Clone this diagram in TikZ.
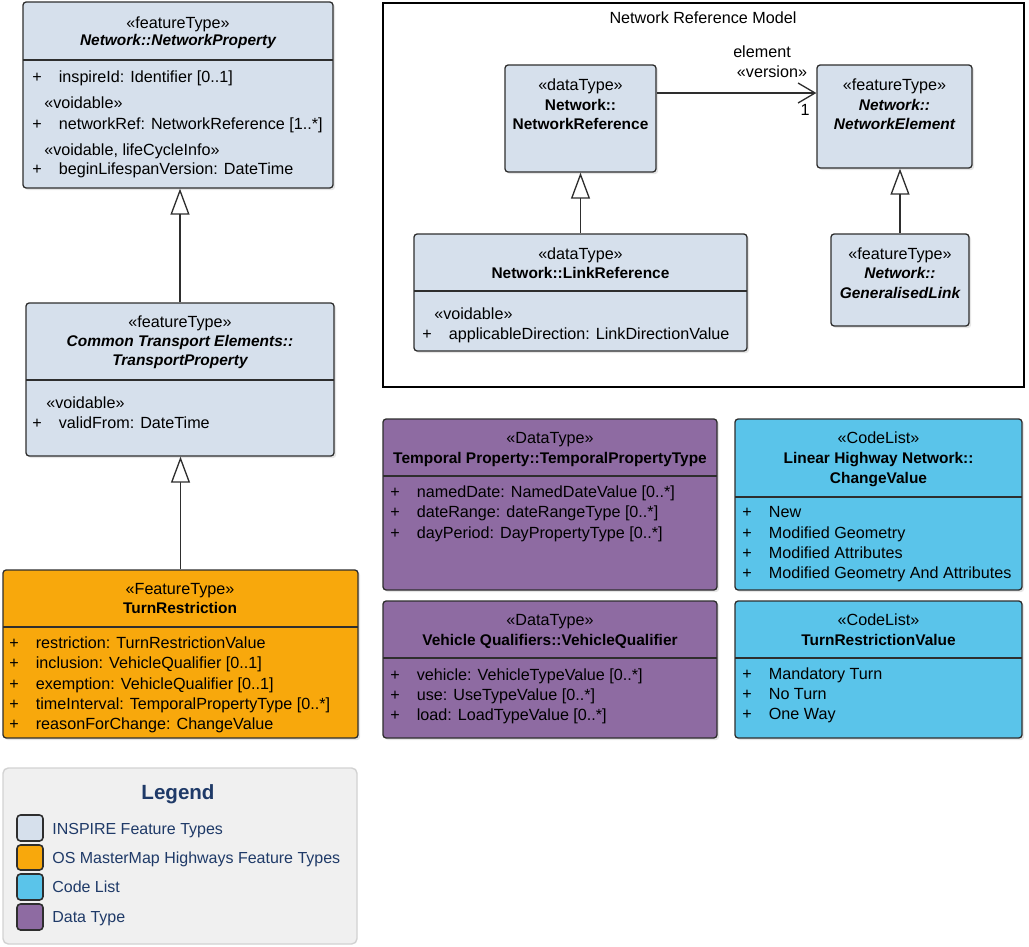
\documentclass[tikz,border=0pt]{standalone}
\usepackage{fontspec}
\setmainfont{Liberation Sans}
\usetikzlibrary{arrows.meta,fit,shadows}
\definecolor{inspire}{HTML}{D6E0EC}
\definecolor{osorange}{HTML}{F8A80C}
\definecolor{dtpurple}{HTML}{8E6BA2}
\definecolor{clcyan}{HTML}{5AC4EA}
\definecolor{legendbg}{HTML}{F0F0F0}
\definecolor{legendline}{HTML}{D2D2D2}
\definecolor{legendtxt}{HTML}{1F3A68}
\definecolor{umlline}{HTML}{2E2E2E}
\newcommand{\plus}{\makebox[0.53cm][l]{+}}
\tikzset{
  umlbox/.style={draw=umlline, line width=0.75pt, rounded corners=1.8pt, inner sep=0pt,
    drop shadow={shadow xshift=1.2pt, shadow yshift=-1.2pt, opacity=0.2}},
  stereo/.style={font=\fontsize{9.2}{11}\selectfont, anchor=base, inner sep=0pt},
  cname/.style={font=\fontsize{8.8}{11}\selectfont\bfseries, anchor=base, inner sep=0pt},
  cnamei/.style={cname, font=\fontsize{8.8}{11}\selectfont\bfseries\itshape},
  attr/.style={font=\fontsize{9.2}{11}\selectfont, anchor=base west, inner sep=0pt},
  divider/.style={draw=umlline, line width=0.75pt},
  gen/.style={draw=umlline, line width=0.75pt, -{Triangle[length=5.2mm, width=3.8mm, fill=white]}},
  assoc/.style={draw=umlline, line width=0.75pt, -{Straight Barb[length=3.4mm, width=4mm]}},
  lgtext/.style={font=\fontsize{9.1}{11}\selectfont, text=legendtxt, anchor=base west, inner sep=0pt},
  swatch/.style={draw=umlline, line width=0.9pt, rounded corners=2pt, inner sep=0pt}
}
\begin{document}
\begin{tikzpicture}[x=0.02cm, y=-0.02cm]
\useasboundingbox (0,0) rectangle (1029,947);

% INSPIRE network property
\node[umlbox, fill=inspire, fit={(23,2) (333,188)}] (netprop) {};
\draw[divider] (23,60) -- (333,60);
\node[stereo] (netprop-st) at (178,28) {«featureType»};
\node[cnamei] (netprop-nm) at (178,45) {Network::NetworkProperty};
\node[attr] (netprop-a1) at (32,82) {\plus inspireId: Identifier [0..1]};
\node[attr] (netprop-s2) at (44,108) {«voidable»};
\node[attr] (netprop-a2) at (32,129) {\plus networkRef: NetworkReference [1..*]};
\node[attr] (netprop-s3) at (44,155) {«voidable, lifeCycleInfo»};
\node[attr] (netprop-a3) at (32,174) {\plus beginLifespanVersion: DateTime};

% transport property
\node[umlbox, fill=inspire, fit={(26,303) (334,456)}] (transp) {};
\draw[divider] (26,380) -- (334,380);
\node[stereo] (transp-st) at (180,327) {«featureType»};
\node[cnamei] (transp-n1) at (180,346) {Common Transport Elements::};
\node[cnamei] (transp-n2) at (180,365) {TransportProperty};
\node[attr] (transp-s1) at (46,408) {«voidable»};
\node[attr] (transp-a1) at (32,428) {\plus validFrom: DateTime};

% turn restriction
\node[umlbox, fill=osorange, fit={(3,570) (358,738)}] (turnres) {};
\draw[divider] (3,627) -- (358,627);
\node[stereo] (turnres-st) at (180,594) {«FeatureType»};
\node[cname] (turnres-nm) at (180,613) {TurnRestriction};
\node[attr] (turnres-a1) at (9,648) {\plus restriction: TurnRestrictionValue};
\node[attr] (turnres-a2) at (9,668) {\plus inclusion: VehicleQualifier [0..1]};
\node[attr] (turnres-a3) at (9,689) {\plus exemption: VehicleQualifier [0..1]};
\node[attr] (turnres-a4) at (9,709) {\plus timeInterval: TemporalPropertyType [0..*]};
\node[attr] (turnres-a5) at (9,729) {\plus reasonForChange: ChangeValue};

\draw[gen] (transp.north) -- (transp.north |- netprop.south);
\draw[gen] (turnres.north) -- (turnres.north |- transp.south);

% network reference model
\node[draw=black, line width=0.6pt, inner sep=0pt, fit={(383,3) (1024,387)}] (nrm) {};
\node[stereo] (nrm-title) at (703,23) {Network Reference Model};

\node[umlbox, fill=inspire, fit={(505,65) (656,172)}] (netref) {};
\node[stereo] (netref-st) at (580.5,90) {«dataType»};
\node[cname] (netref-n1) at (580.5,110) {Network::};
\node[cname] (netref-n2) at (580.5,129) {NetworkReference};

\node[umlbox, fill=inspire, fit={(817,65) (972,168)}] (netelem) {};
\node[stereo] (netelem-st) at (894.5,90) {«featureType»};
\node[cnamei] (netelem-n1) at (894.5,110) {Network::};
\node[cnamei] (netelem-n2) at (894.5,129) {NetworkElement};

\node[umlbox, fill=inspire, fit={(414,234) (747,351)}] (linkref) {};
\draw[divider] (414,291) -- (747,291);
\node[stereo] (linkref-st) at (580.5,259) {«dataType»};
\node[cname] (linkref-nm) at (580.5,278) {Network::LinkReference};
\node[attr] (linkref-s1) at (434,319) {«voidable»};
\node[attr] (linkref-a1) at (422,339) {\plus applicableDirection: LinkDirectionValue};

\node[umlbox, fill=inspire, fit={(831,234) (969,326)}] (genlink) {};
\node[stereo] (genlink-st) at (900,259) {«featureType»};
\node[cnamei] (genlink-n1) at (900,278) {Network::};
\node[cnamei] (genlink-n2) at (900,298) {GeneralisedLink};

\coordinate (elemrow) at (0,93);
\draw[assoc] (netref.east |- elemrow) -- (netelem.west |- elemrow);
\node[stereo] (elem-role) at (762,57) {element};
\node[stereo] (elem-st) at (772,77) {«version»};
\node[stereo] (elem-mult) at (805,115) {1};
\draw[gen] (linkref.north) -- (linkref.north |- netref.south);
\draw[gen] (genlink.north) -- (genlink.north |- netelem.south);

% data types
\node[umlbox, fill=dtpurple, fit={(383,419) (717,590)}] (tempprop) {};
\draw[divider] (383,476) -- (717,476);
\node[stereo] (tempprop-st) at (550,443) {«DataType»};
\node[cname] (tempprop-nm) at (550,463) {Temporal Property::TemporalPropertyType};
\node[attr] (tempprop-a1) at (390,497) {\plus namedDate: NamedDateValue [0..*]};
\node[attr] (tempprop-a2) at (390,517) {\plus dateRange: dateRangeType [0..*]};
\node[attr] (tempprop-a3) at (390,538) {\plus dayPeriod: DayPropertyType [0..*]};

\node[umlbox, fill=dtpurple, fit={(383,601) (717,738)}] (vehqual) {};
\draw[divider] (383,658) -- (717,658);
\node[stereo] (vehqual-st) at (550,625) {«DataType»};
\node[cname] (vehqual-nm) at (550,645) {Vehicle Qualifiers::VehicleQualifier};
\node[attr] (vehqual-a1) at (390,680) {\plus vehicle: VehicleTypeValue [0..*]};
\node[attr] (vehqual-a2) at (390,700) {\plus use: UseTypeValue [0..*]};
\node[attr] (vehqual-a3) at (390,720) {\plus load: LoadTypeValue [0..*]};

% code lists
\node[umlbox, fill=clcyan, fit={(735,419) (1022,590)}] (chgval) {};
\draw[divider] (735,497) -- (1022,497);
\node[stereo] (chgval-st) at (878.5,443) {«CodeList»};
\node[cname] (chgval-n1) at (878.5,463) {Linear Highway Network::};
\node[cname] (chgval-n2) at (878.5,483) {ChangeValue};
\node[attr] (chgval-a1) at (742,517) {\plus New};
\node[attr] (chgval-a2) at (742,538) {\plus Modified Geometry};
\node[attr] (chgval-a3) at (742,558) {\plus Modified Attributes};
\node[attr] (chgval-a4) at (742,578) {\plus Modified Geometry And Attributes};

\node[umlbox, fill=clcyan, fit={(735,601) (1022,738)}] (trval) {};
\draw[divider] (735,658) -- (1022,658);
\node[stereo] (trval-st) at (878.5,625) {«CodeList»};
\node[cname] (trval-nm) at (878.5,645) {TurnRestrictionValue};
\node[attr] (trval-a1) at (742,679) {\plus Mandatory Turn};
\node[attr] (trval-a2) at (742,699) {\plus No Turn};
\node[attr] (trval-a3) at (742,719) {\plus One Way};

% legend
\node[draw=legendline, fill=legendbg, line width=0.8pt, rounded corners=3pt, inner sep=0pt,
  fit={(3,768) (357,944)}] (legend) {};
\node[font=\fontsize{11.7}{14}\selectfont\bfseries, text=legendtxt, anchor=base, inner sep=0pt]
  (legend-title) at (178,799) {Legend};
\node[swatch, fill=inspire, fit={(17,815) (43,841)}] (sw-inspire) {};
\node[swatch, fill=osorange, fit={(17,845) (43,870)}] (sw-os) {};
\node[swatch, fill=clcyan, fit={(17,874) (43,900)}] (sw-code) {};
\node[swatch, fill=dtpurple, fit={(17,904) (43,930)}] (sw-data) {};
\node[lgtext] (lg-inspire) at (52,834) {INSPIRE Feature Types};
\node[lgtext] (lg-os) at (52,863) {OS MasterMap Highways Feature Types};
\node[lgtext] (lg-code) at (52,892) {Code List};
\node[lgtext] (lg-data) at (52,922) {Data Type};
\end{tikzpicture}
\end{document}
